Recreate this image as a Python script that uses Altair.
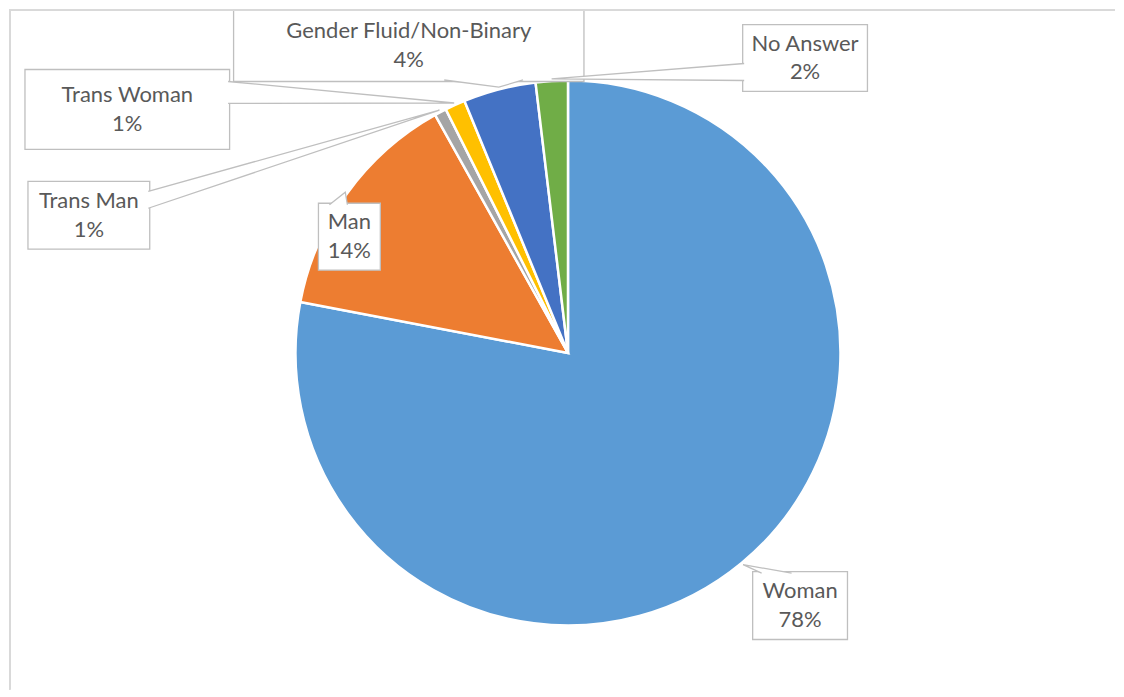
import math
import altair as alt
import pandas as pd

# ---- data ----
categories = ["Woman", "Man", "Trans Man", "Trans Woman", "Gender Fluid/Non-Binary", "No Answer"]
values = [78.0, 13.9, 0.7, 1.2, 4.3, 1.9]
colors = ["#5B9BD5", "#ED7D31", "#A5A5A5", "#FFC000", "#4472C4", "#70AD47"]

# ---- layout (px relative to pie centre, y downward) ----
label_boxes = {
    "Woman": (185, 219, 280, 287),
    "Man": (-250, -150, -188, -83),
    "Trans Man": (-541, -172, -419, -104),
    "Trans Woman": (-544, -284, -339, -204),
    "Gender Fluid/Non-Binary": (-335, -344, 16, -272),
    "No Answer": (175, -329, 300, -262),
}
wedge_bases = {
    "Woman": ((194, 220.5), (224, 220.5)),
    "Man": ((-239, -148.5), (-221, -148.5)),
    "Trans Man": ((-420.5, -162), (-420.5, -145)),
    "Trans Woman": ((-340.5, -272), (-340.5, -250)),
    "Gender Fluid/Non-Binary": ((-124, -273.5), (-45, -273.5)),
    "No Answer": ((176.5, -290), (176.5, -273)),
}

W, H = 1108, 681
CX, CY = 560, 344
R = 273
FONT = "Lato"
FS = 22
TXT = "#595959"
BORDER = "#BFBFBF"

xs = alt.Scale(domain=[-CX, W - CX], range=[0, W])
ys = alt.Scale(domain=[-CY, H - CY], range=[0, H])

total = sum(values)
pie_df = pd.DataFrame({"cat": categories, "value": values, "ord": list(range(len(values)))})

# label table
rows, wrows = [], []
cum = 0.0
for c, v in zip(categories, values):
    mid = 2 * math.pi * (cum + v / 2) / total
    cum += v
    x0, y0, x1, y1 = label_boxes[c]
    rows.append({"cat": c, "pct": f"{round(v / total * 100)}%",
                 "x0": x0, "x1": x1, "y0": y0, "y1": y1,
                 "tx": (x0 + x1) / 2, "ty": (y0 + y1) / 2})
    tip = (R * 1.008 * math.sin(mid), -R * 1.008 * math.cos(mid))
    b1, b2 = wedge_bases[c]
    for o, p in enumerate([b1, tip, b2]):
        wrows.append({"cat": c, "o": o, "px": p[0], "py": p[1]})
lab_df = pd.DataFrame(rows)
w_df = pd.DataFrame(wrows)

pie = alt.Chart(pie_df).mark_arc(outerRadius=R, stroke="white", strokeWidth=2.5).encode(
    theta=alt.Theta("value:Q", stack=True),
    color=alt.Color("cat:N", scale=alt.Scale(domain=categories, range=colors), legend=None),
    order=alt.Order("ord:Q"),
    x=alt.XDatum(0, scale=xs, axis=None),
    y=alt.YDatum(0, scale=ys, axis=None),
)

boxes = alt.Chart(lab_df).mark_rect(fill="white", stroke=BORDER, strokeWidth=1.3).encode(
    x=alt.X("x0:Q", scale=xs, axis=None),
    x2="x1:Q",
    y=alt.Y("y0:Q", scale=ys, axis=None),
    y2="y1:Q",
)

wedges = alt.Chart(w_df).mark_line(fill="white", stroke=BORDER, strokeWidth=1.3).encode(
    x=alt.X("px:Q", scale=xs, axis=None),
    y=alt.Y("py:Q", scale=ys, axis=None),
    detail="cat:N",
    order="o:Q",
)

names = alt.Chart(lab_df).mark_text(font=FONT, fontSize=FS, color=TXT, baseline="middle",
                                    align="center", dy=-14.5).encode(
    x=alt.X("tx:Q", scale=xs, axis=None),
    y=alt.Y("ty:Q", scale=ys, axis=None),
    text="cat:N",
)
pcts = alt.Chart(lab_df).mark_text(font=FONT, fontSize=FS, color=TXT, baseline="middle",
                                   align="center", dy=14.5).encode(
    x=alt.X("tx:Q", scale=xs, axis=None),
    y=alt.Y("ty:Q", scale=ys, axis=None),
    text="pct:N",
)

frame_left = alt.Chart(pie_df).mark_rule(color="#D9D9D9", strokeWidth=1.5).encode(
    x=alt.value(0.75), y=alt.value(0), y2=alt.value(H))
frame_top = alt.Chart(pie_df).mark_rule(color="#D9D9D9", strokeWidth=1.5).encode(
    x=alt.value(0), x2=alt.value(W), y=alt.value(0.75))

chart = alt.layer(pie, boxes, wedges, names, pcts, frame_left, frame_top).properties(
    width=W, height=H, padding=0, background="white"
).configure_view(stroke=None)

chart.save("out.html", embed_options={"renderer": "svg", "actions": False})
